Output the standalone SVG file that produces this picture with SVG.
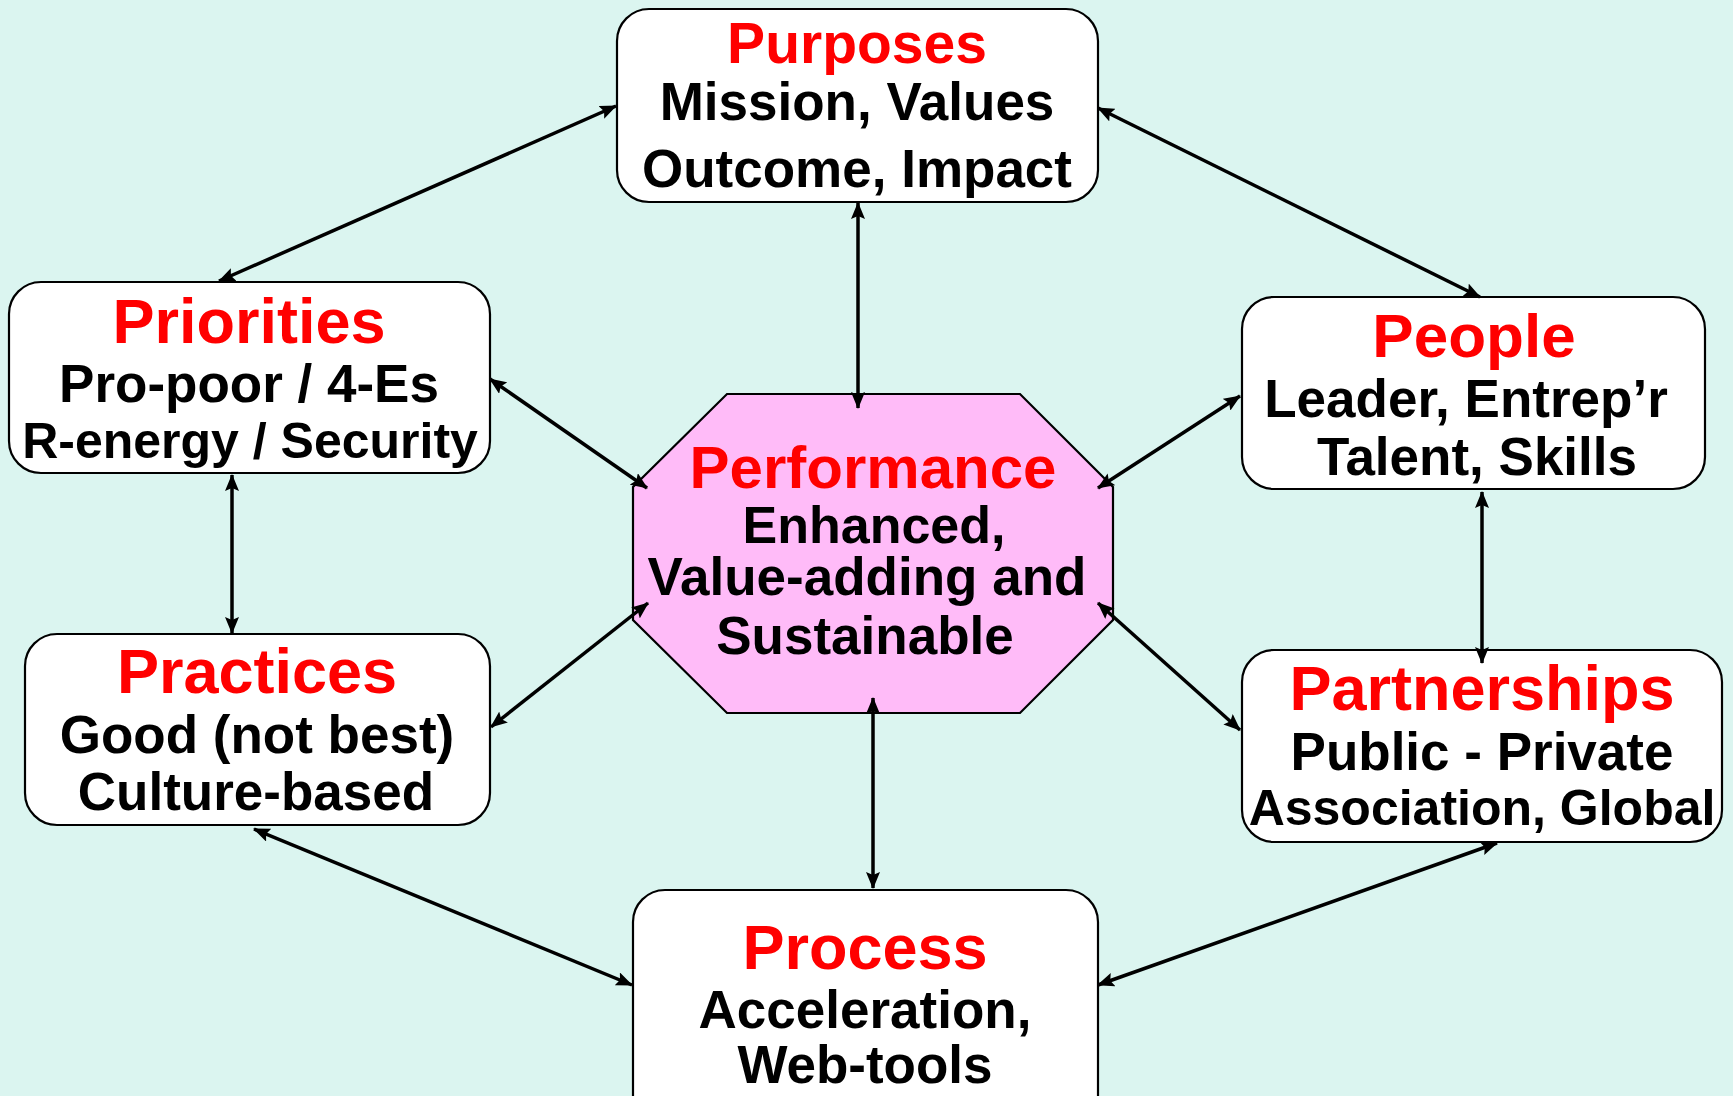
<svg xmlns="http://www.w3.org/2000/svg" width="1733" height="1096" viewBox="0 0 1733 1096">
<style>
  .box { fill: #ffffff; stroke: #000000; stroke-width: 2.2; }
  .oct { fill: #FFBBF8; stroke: #000000; stroke-width: 2.2; }
  .t { font-family: "Liberation Sans", Arial, sans-serif; font-weight: bold; text-anchor: middle; }
  .h { fill: #FF0000; }
  .b { fill: #000000; }
  .c { stroke: #000000; stroke-width: 3.5; fill: none; marker-start: url(#ah); marker-end: url(#ah); }
</style>
<defs>
  <marker id="ah" markerUnits="userSpaceOnUse" markerWidth="17" markerHeight="14" refX="16" refY="7" orient="auto-start-reverse" viewBox="0 0 17 14">
    <path d="M0,0 L17,7 L0,14 L3,7 z" fill="#000000"/>
  </marker>
</defs>
<rect width="1733" height="1096" fill="#DBF5F0"/>

<g id="purposes">
  <rect class="box" x="617" y="9" width="481" height="193" rx="32"/>
  <text class="t h" x="857" y="63" font-size="57">Purposes</text>
  <text class="t b" x="857" y="120" font-size="53">Mission, Values</text>
  <text class="t b" x="857" y="187" font-size="53">Outcome, Impact</text>
</g>

<g id="priorities">
  <rect class="box" x="9" y="282" width="481" height="191" rx="32"/>
  <text class="t h" x="249" y="343" font-size="63">Priorities</text>
  <text class="t b" x="249" y="402" font-size="53">Pro-poor / 4-Es</text>
  <text class="t b" x="250" y="458" font-size="50">R-energy / Security</text>
</g>

<g id="people">
  <rect class="box" x="1242" y="297" width="463" height="192" rx="32"/>
  <text class="t h" x="1474" y="357" font-size="62">People</text>
  <text class="t b" x="1466" y="417" font-size="53">Leader, Entrep’r</text>
  <text class="t b" x="1477" y="475" font-size="53">Talent, Skills</text>
</g>

<g id="performance">
  <polygon class="oct" points="727,394 1020,394 1113,487 1113,620 1020,713 727,713 633,620 633,487"/>
  <text class="t h" x="873" y="488" font-size="60">Performance</text>
  <text class="t b" x="874" y="543" font-size="52">Enhanced,</text>
  <text class="t b" x="867" y="595" font-size="53">Value-adding and</text>
  <text class="t b" x="865" y="654" font-size="53">Sustainable</text>
</g>

<g id="practices">
  <rect class="box" x="25" y="634" width="465" height="191" rx="32"/>
  <text class="t h" x="257" y="693" font-size="63">Practices</text>
  <text class="t b" x="257" y="753" font-size="53">Good (not best)</text>
  <text class="t b" x="256" y="810" font-size="53">Culture-based</text>
</g>

<g id="partnerships">
  <rect class="box" x="1242" y="650" width="480" height="192" rx="32"/>
  <text class="t h" x="1482" y="710" font-size="63">Partnerships</text>
  <text class="t b" x="1482" y="770" font-size="53">Public - Private</text>
  <text class="t b" x="1482" y="825" font-size="50">Association, Global</text>
</g>

<g id="process">
  <rect class="box" x="633" y="890" width="465" height="240" rx="32"/>
  <text class="t h" x="865" y="969" font-size="63">Process</text>
  <text class="t b" x="865" y="1028" font-size="53">Acceleration,</text>
  <text class="t b" x="865" y="1083" font-size="53">Web-tools</text>
</g>

<g id="connectors">
  <line class="c" x1="616" y1="106" x2="219" y2="281"/>
  <line class="c" x1="1098" y1="108" x2="1480" y2="297"/>
  <line class="c" x1="858" y1="203" x2="858" y2="408"/>
  <line class="c" x1="490" y1="379" x2="647" y2="488"/>
  <line class="c" x1="232" y1="475" x2="232" y2="633"/>
  <line class="c" x1="491" y1="727" x2="648" y2="603"/>
  <line class="c" x1="1240" y1="396" x2="1098" y2="488"/>
  <line class="c" x1="1240" y1="730" x2="1098" y2="603"/>
  <line class="c" x1="1482" y1="492" x2="1482" y2="663"/>
  <line class="c" x1="873" y1="698" x2="873" y2="888"/>
  <line class="c" x1="254" y1="829" x2="632" y2="985"/>
  <line class="c" x1="1497" y1="843" x2="1098" y2="985"/>
</g>
</svg>
